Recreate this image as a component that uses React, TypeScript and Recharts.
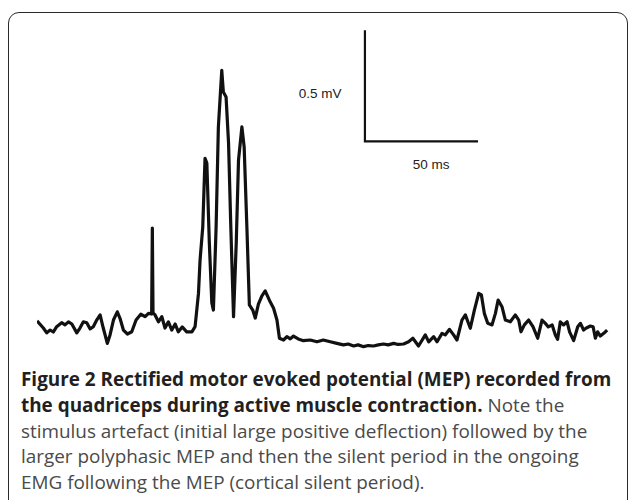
// @ts-nocheck
import { LineChart, Line, XAxis, YAxis, ReferenceDot } from 'recharts';

// rectified EMG trace: time in ms, amplitude in µV
const timeMs = [
  0, 2.8, 4.3, 5.8, 7.2, 8.7, 10.9, 12.4, 13.9, 15.4, 17.6, 19.0, 20.5, 22.0, 23.5, 24.9, 26.4, 27.9, 29.3, 31.1,
  32.3, 33.8, 35.5, 36.7, 38.2, 40.0, 41.9, 43.8, 45.9, 47.8, 49.3, 50.7, 51.0, 51.3, 52.2, 53.7, 55.2, 56.6, 58.1, 59.6,
  61.1, 62.5, 64.2, 66.2, 68.5, 69.9, 71.4, 72.1, 73.3, 74.3, 75.1, 76.2, 77.3, 78.0, 79.2, 80.2, 81.7, 82.4, 83.6, 84.7,
  85.7, 86.9, 88.1, 89.1, 90.6, 91.6, 92.8, 93.9, 95.4, 96.5, 97.9, 99.4, 100.9, 103.1, 104.6, 106.1, 107.2, 109.0, 110.5, 112.0,
  113.4, 115.5, 117.8, 120.8, 123.8, 126.6, 129.7, 132.6, 135.5, 137.6, 140.0, 142.0, 144.4, 146.5, 148.8, 150.9, 153.2, 155.3, 157.7, 159.7,
  162.1, 164.3, 166.2, 168.7, 171.7, 173.2, 175.4, 176.9, 179.1, 180.5, 182.4, 184.2, 185.7, 187.9, 189.4, 191.6, 193.4, 195.3, 196.5, 197.8,
  199.3, 201.2, 202.7, 203.9, 205.6, 207.1, 209.3, 211.5, 213.0, 214.0, 215.5, 217.4, 219.3, 221.4, 223.3, 224.8, 226.1, 227.8, 229.2, 230.2,
  231.4, 232.8, 234.4, 235.5, 237.3, 239.1, 240.3, 241.7, 242.9, 244.7, 245.9, 246.9, 247.9, 249.1, 250.6, 252.1,
];
const amplitudeUv = [
  131, 99, 77, 90, 81, 105, 123, 113, 127, 117, 77, 99, 127, 123, 95, 105, 135, 158, 99, 30,
  68, 135, 172, 143, 90, 72, 82, 135, 161, 150, 165, 162, 549, 167, 158, 127, 150, 99, 127, 90,
  117, 82, 104, 82, 82, 105, 255, 405, 555, 863, 842, 482, 212, 180, 555, 1005, 1260, 1162, 1140, 932,
  555, 150, 482, 855, 1005, 915, 555, 203, 180, 144, 207, 243, 266, 217, 188, 135, 53, 45, 60, 50,
  63, 50, 42, 45, 37, 45, 37, 30, 23, 27, 18, 23, 15, 20, 18, 23, 27, 23, 30, 25,
  27, 37, 53, 18, 68, 37, 60, 37, 75, 68, 93, 68, 45, 135, 158, 98, 180, 255, 248, 165,
  120, 113, 165, 225, 195, 135, 127, 158, 135, 82, 113, 135, 105, 53, 135, 120, 104, 113, 68, 48,
  127, 113, 127, 82, 42, 105, 120, 90, 99, 108, 105, 53, 82, 63, 75, 90,
];

// calibration bar: 50 ms by 0.5 mV
const scaleBarMs = [145, 145, 195];
const scaleBarUv = [1440, 940, 940];

const captionBold = ['Figure 2 Rectified motor evoked potential (MEP) recorded from', 'the quadriceps during active muscle contraction.'];
const captionRest = [
  ' Note the',
  'stimulus artefact (initial large positive deflection) followed by the',
  'larger polyphasic MEP and then the silent period in the ongoing',
  'EMG following the MEP (cortical silent period).',
];

const trace = timeMs.map((t, i) => ({ t, a: amplitudeUv[i] }));
const scaleBar = scaleBarMs.map((t, i) => ({ t, a: scaleBarUv[i] }));

const labelStyle = { fill: '#222', fontSize: 13.5, fontFamily: 'Liberation Sans, Arial, sans-serif' };

export default function App() {
  return (
    <div style={{ position: 'relative', width: 628, height: 500, overflow: 'hidden', background: '#fff' }}>
      <style>{'body{margin:0}'}</style>
      <div
        style={{
          position: 'absolute',
          left: 8,
          top: 12,
          width: 620,
          height: 520,
          border: '1.3px solid #2a2a2a',
          borderRadius: 11,
          boxSizing: 'border-box',
        }}
      />
      <div style={{ position: 'absolute', left: 0, top: 0 }}>
        <LineChart width={625} height={360} data={trace} margin={{ top: 17, right: 0, bottom: 10, left: 37 }}>
          <XAxis dataKey="t" type="number" domain={[0, 260]} hide allowDataOverflow />
          <YAxis type="number" domain={[0, 1500]} hide allowDataOverflow />
          <Line
            type="linear"
            dataKey="a"
            stroke="#111"
            strokeWidth={3.2}
            strokeLinejoin="round"
            dot={false}
            isAnimationActive={false}
          />
          <Line
            type="linear"
            data={scaleBar}
            dataKey="a"
            stroke="#111"
            strokeWidth={2.2}
            dot={false}
            isAnimationActive={false}
          />
          <ReferenceDot x={125.2} y={1157} r={0} stroke="none" label={{ value: '0.5 mV', position: 'center', ...labelStyle }} />
          <ReferenceDot x={174.3} y={837} r={0} stroke="none" label={{ value: '50 ms', position: 'center', ...labelStyle }} />
        </LineChart>
      </div>
      <div
        style={{
          position: 'absolute',
          left: 21,
          top: 367,
          fontFamily: '"Open Sans", sans-serif',
          fontSize: 18.9,
          lineHeight: '25.75px',
          whiteSpace: 'nowrap',
          color: '#4a4a4a',
        }}
      >
        <b style={{ color: '#231f20' }}>{captionBold[0]}</b>
        <br />
        <b style={{ color: '#231f20' }}>{captionBold[1]}</b>
        {captionRest[0]}
        <br />
        {captionRest[1]}
        <br />
        {captionRest[2]}
        <br />
        {captionRest[3]}
      </div>
    </div>
  );
}
